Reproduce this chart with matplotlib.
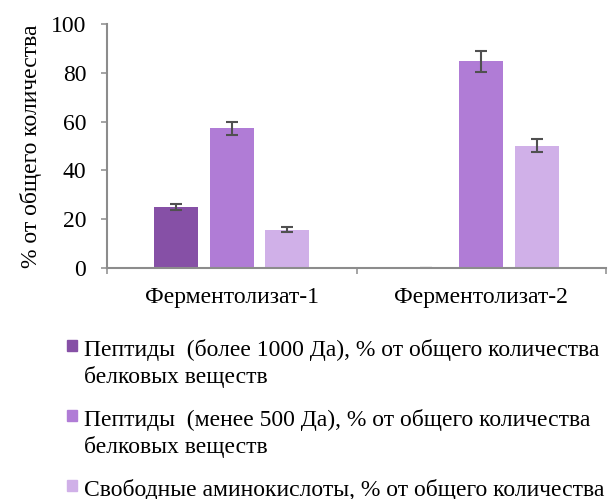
import matplotlib
matplotlib.use("Agg")
import matplotlib.pyplot as plt
import matplotlib.patches as patches
import numpy as np

plt.rcParams['font.family'] = ['Liberation Serif', 'DejaVu Serif']

### Data
categories = ["Ферментолизат-1", "Ферментолизат-2"]
series_names = [
    "Пептиды  (более 1000 Да), % от общего количества\nбелковых веществ",
    "Пептиды  (менее 500 Да), % от общего количества\nбелковых веществ",
    "Свободные аминокислоты, % от общего количества\nбелковых веществ",
]
peptides_big = [25.0, 0.0]
peptides_small = [57.2, 84.8]
amino_acids = [15.6, 50.1]
err_big = [1.4, 0.0]
err_small = [2.8, 4.3]
err_amino = [1.0, 2.6]

### Colors
colors = ['#8650a6', '#b07cd6', '#d0b0e8']
errColor = '#505050'
axColor = '#8c8c8c'

W, H = 615, 499
fig = plt.figure(figsize=(W / 100, H / 100), dpi=100)
ax = fig.add_axes([107 / W, 1 - 268 / H, (606 - 107) / W, (268 - 24) / H])

x = np.arange(len(categories))
barW = 0.176
step = 0.222
values = [peptides_big, peptides_small, amino_acids]
errs = [err_big, err_small, err_amino]
for i, (vals, e) in enumerate(zip(values, errs)):
    ax.bar(x + (i - 1) * step, vals, barW, color=colors[i], zorder=2,
           yerr=e, capsize=4.3,
           error_kw=dict(ecolor=errColor, elinewidth=1.5, capthick=1.5))

ax.set_xlim(-0.5, 1.5)
ax.set_ylim(0, 100)
ax.set_yticks(range(0, 101, 20))
ax.set_xticks([-0.5, 0.5, 1.5], minor=False)
ax.set_xticklabels([])
ax.set_xticks(x, minor=True)
ax.set_xticklabels(categories, minor=True)
ax.tick_params(axis='x', which='minor', length=0, pad=14, labelsize=17)
ax.tick_params(axis='x', which='major', length=4.5, width=1.1, color=axColor, direction='out')
ax.tick_params(axis='y', length=4.5, width=1.1, color=axColor, labelsize=17, pad=10.5)
for s in ['top', 'right']:
    ax.spines[s].set_visible(False)
for s in ['left', 'bottom']:
    ax.spines[s].set_color(axColor)
    ax.spines[s].set_linewidth(1.5)
ax.set_ylabel("% от общего количества", fontsize=17, labelpad=6)

### Legend drawn by hand below the axes (the figure edge cuts the last entry)
for i, name in enumerate(series_names):
    base = 356 + 70 * i
    sq = patches.Rectangle((67 / W, 1 - (base - 5) / H), 10 / W, 11 / H,
                           transform=fig.transFigure, color=colors[i])
    fig.add_artist(sq)
    for k, line in enumerate(name.split("\n")):
        y = base + 27.5 * k
        if y > H:
            continue
        fig.text(84 / W, 1 - y / H, line, fontsize=17,
                 va='baseline', ha='left')

fig.savefig("out.png", dpi=100)
